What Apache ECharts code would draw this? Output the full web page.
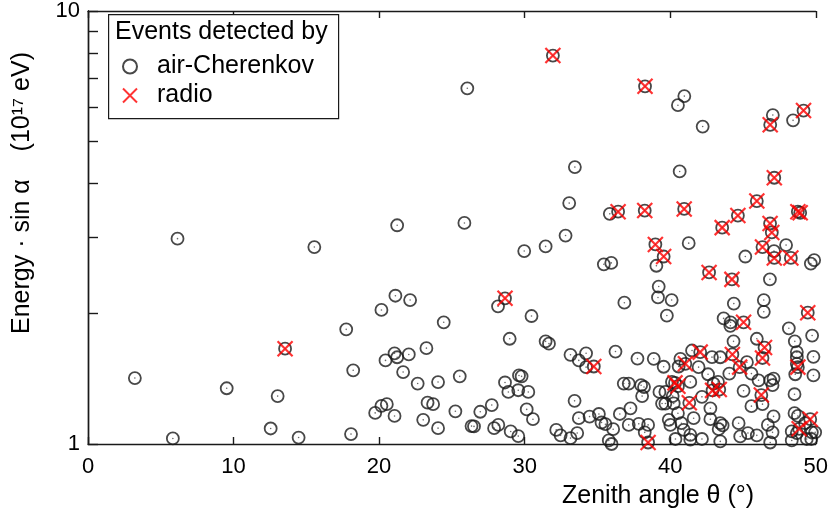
<!DOCTYPE html>
<html>
<head>
<meta charset="utf-8">
<script src="https://cdn.jsdelivr.net/npm/echarts@6.0.0/dist/echarts.min.js"></script>
<style>
  html, body { margin: 0; padding: 0; background: #fff; }
  #chart { width: 831px; height: 514px; }
</style>
</head>
<body>
<div id="chart"></div>
<script>
// zenith angle (deg), energy * sin(alpha) (1e17 eV) -- all events seen by air-Cherenkov
const cherenkovEvents = [
  [3.22,1.42],[5.83,1.03],[6.15,2.98],[9.53,1.345],[13.03,1.29],[12.55,1.086],[13.54,1.66],[14.47,1.035],
  [15.55,2.85],[17.74,1.84],[18.22,1.48],[18.07,1.054],[20.16,2.04],[21.12,2.20],[22.13,2.15],[21.06,1.62],
  [20.44,1.56],[21.24,1.586],[22.04,1.61],[21.65,1.466],[22.65,1.379],[19.73,1.18],[20.16,1.225],[20.53,1.236],
  [21.06,1.161],[21.24,3.20],[25.86,3.24],[26.06,6.63],[24.44,1.91],[23.25,1.665],[24.05,1.39],[25.54,1.433],
  [23.33,1.246],[23.71,1.236],[23.03,1.137],[24.05,1.088],[25.24,1.19],[26.95,1.187],[26.35,1.10],[26.52,1.098],
  [27.74,1.23],[27.9,1.088],[28.19,1.107],[28.17,2.08],[28.65,2.17],[28.65,1.387],[28.88,1.319],[28.97,1.75],
  [29.04,1.069],[29.56,1.331],[29.61,1.44],[29.79,1.433],[29.56,1.043],[29.97,2.79],[30.25,1.319],[30.14,1.202],
  [30.47,1.975],[30.57,1.141],[31.44,2.86],[31.44,1.726],[31.67,1.705],[31.94,7.89],[32.17,1.078],[32.47,1.047],
  [32.81,3.03],[33.06,3.60],[33.15,1.607],[33.15,1.032],[33.43,1.258],[33.45,4.36],[33.72,1.56],[33.72,1.147],
  [33.61,1.06],[34.22,1.62],[34.22,1.505],[34.75,1.51],[34.46,1.157],[35.1,1.173],[35.28,1.121],[35.55,1.111],
  [35.44,2.60],[35.95,2.62],[35.85,3.40],[36.42,3.44],[35.78,1.019],[35.97,1.0],[36.08,1.082],[36.24,1.635],
  [36.54,1.173],[36.85,2.12],[36.81,1.379],[37.15,1.379],[37.27,1.209],[37.15,1.107],[37.84,1.113],[37.75,1.575],
  [38.0,1.367],[38.2,1.354],[38.07,1.29],[38.25,1.064],[38.48,1.107],[38.48,1.008],[38.25,3.46],[38.27,6.70],
  [38.87,1.573],[38.98,2.89],[39.05,2.58],[39.21,2.31],[39.16,2.18],[39.26,1.319],[39.44,1.24],[39.67,1.24],
  [39.55,2.71],[39.55,1.508],[39.67,1.319],[39.77,1.98],[39.9,1.137],[40.01,1.107],[40.1,2.15],[40.12,1.391],
  [40.17,1.29],[40.24,1.241],[40.33,1.384],[40.53,1.36],[40.36,1.027],[40.53,6.06],[40.97,6.36],[40.65,4.26],
  [40.96,3.49],[40.7,1.573],[40.58,1.51],[41.04,1.532],[40.53,1.178],[40.77,1.117],[40.93,1.078],[41.27,2.91],
  [41.38,1.391],[41.31,1.245],[41.38,1.05],[41.38,1.023],[41.5,1.644],[41.61,1.147],[41.95,1.505],[42.06,1.63],
  [42.18,1.285],[42.18,1.027],[42.23,5.41],[42.67,2.49],[42.6,1.449],[42.76,1.209],[42.76,1.141],[42.87,1.587],
  [42.98,1.379],[42.91,1.33],[43.28,1.391],[43.37,1.336],[43.44,1.586],[43.57,3.16],[43.44,1.117],[43.6,1.104],
  [43.33,1.082],[43.44,1.014],[43.67,1.95],[44.15,1.91],[44.13,1.875],[44.06,1.454],[44.24,2.40],[44.27,1.61],
  [44.37,2.11],[44.35,1.726],[44.65,3.37],[44.7,1.117],[44.81,1.041],[44.77,1.505],[45.04,1.91],[45.04,1.327],
  [45.16,2.71],[45.27,1.545],[45.34,1.06],[45.58,1.454],[45.58,1.223],[45.95,3.64],[45.95,1.75],[45.95,1.047],
  [46.07,1.403],[46.26,1.297],[46.34,1.236],[46.34,2.85],[46.43,2.15],[46.43,2.02],[46.48,1.67],[46.34,1.58],
  [46.87,5.46],[47.05,5.75],[46.86,3.23],[46.98,3.08],[46.85,2.40],[47.15,4.12],[47.13,2.79],[47.15,2.69],
  [47.03,1.367],[46.87,1.403],[47.1,1.416],[47.1,1.158],[46.71,1.107],[47.03,1.064],[46.87,1.008],[47.96,2.88],
  [48.15,1.85],[48.29,2.69],[48.44,5.59],[48.56,1.726],[48.7,1.63],[48.7,1.586],[48.7,1.532],[48.77,1.505],
  [48.59,1.449],[48.54,1.303],[48.54,1.178],[48.77,1.161],[48.35,1.069],[48.7,1.06],[48.86,1.084],[48.35,1.019],
  [48.77,3.44],[48.93,3.42],[49.16,5.89],[49.45,2.01],[49.62,1.141],[49.66,2.61],[49.89,2.66],[49.75,1.78],
  [49.84,1.59],[49.84,1.44],[49.73,1.064],[49.96,1.064],[49.69,1.027],[49.38,1.027],[49.27,1.117]
];

// subset also detected by the radio antennas
const radioEvents = [
  [13.54,1.66],[28.65,2.17],[31.94,7.89],[34.75,1.51],[36.42,3.44],[38.48,1.008],[38.25,3.46],[38.27,6.70],
  [38.98,2.89],[39.55,2.71],[40.33,1.384],[40.53,1.36],[40.96,3.49],[41.04,1.532],[41.31,1.245],[42.06,1.63],
  [42.67,2.49],[42.91,1.33],[43.37,1.336],[43.57,3.16],[44.24,2.40],[44.27,1.61],[44.65,3.37],[44.77,1.505],
  [45.04,1.91],[45.95,3.64],[46.26,1.297],[46.34,2.85],[46.48,1.67],[46.34,1.58],[46.87,5.46],[46.86,3.23],
  [46.98,3.08],[47.15,4.12],[47.15,2.69],[48.29,2.69],[48.77,1.505],[48.86,1.084],[48.77,3.44],[48.93,3.42],
  [49.16,5.89],[49.45,2.01],[49.62,1.141]
];

const yTickValues = [1, 2, 3, 4, 5, 6, 7, 8, 9, 10];
const yLabelValues = [1, 10];

const FONT = '"Liberation Sans", Arial, sans-serif';
const crossPath = 'path://M0,0L10,10M10,0L0,10';
const INK = '#1a1a1a';
const X_TICK = 7, Y_TICK = 5;

const chart = echarts.init(document.getElementById('chart'));

// frame axes: line + labels, no ticks
function xFrame(pos, showLabels) {
  return {
    type: 'value', min: 0, max: 50, interval: 10, position: pos,
    axisLine: { lineStyle: { color: INK, width: 1.4 } },
    axisTick: { show: false },
    axisLabel: showLabels
      ? { color: '#000', fontSize: 22, fontFamily: FONT, margin: 12 }
      : { show: false },
    splitLine: { show: false }
  };
}
function yFrame(pos, showLabels) {
  return {
    type: 'log', logBase: 10, min: 1, max: 10, position: pos,
    axisLine: { lineStyle: { color: INK, width: 1.4 } },
    axisTick: { show: false },
    axisLabel: showLabels
      ? { color: '#000', fontSize: 22, fontFamily: FONT, margin: 8, customValues: yLabelValues }
      : { show: false },
    splitLine: { show: false }
  };
}
// tick-only axes, shifted into the plot so outward ticks end on the frame
function xTicks(pos) {
  return {
    type: 'value', min: 0, max: 50, interval: 10, position: pos, offset: -X_TICK,
    axisLine: { show: false },
    axisTick: { show: true, length: X_TICK, lineStyle: { color: INK, width: 1.4 } },
    axisLabel: { show: false }, splitLine: { show: false }
  };
}
function yTicks(pos) {
  return {
    type: 'log', logBase: 10, min: 1, max: 10, position: pos, offset: -Y_TICK,
    axisLine: { show: false },
    axisTick: { show: true, length: Y_TICK, customValues: yTickValues,
                lineStyle: { color: INK, width: 1.4 } },
    axisLabel: { show: false }, splitLine: { show: false }
  };
}

chart.setOption({
  animation: false,
  backgroundColor: '#fff',
  grid: { left: 88, right: 14, top: 7, bottom: 70 },
  xAxis: [xFrame('bottom', true), xFrame('top', false), xTicks('bottom'), xTicks('top')],
  yAxis: [yFrame('left', true), yFrame('right', false), yTicks('left'), yTicks('right')],
  legend: {
    orient: 'vertical', left: 117, top: 49, itemGap: 4,
    itemWidth: 14, itemHeight: 14,
    textStyle: { color: '#000', fontSize: 25, fontFamily: FONT, padding: [0, 0, 0, 15] },
    data: ['air-Cherenkov', 'radio'],
    z: 10
  },
  graphic: [
    { type: 'rect', left: 108, top: 14, z: 5,
      shape: { width: 230, height: 104 },
      style: { fill: '#fff', stroke: INK, lineWidth: 1.2 } },
    { type: 'text', left: 115, top: 20, z: 11,
      style: { text: 'Events detected by', fill: '#000', font: '25px ' + FONT } },
    { type: 'text', left: 562, top: 484, z: 11,
      style: { text: 'Zenith angle θ (°)', fill: '#000', font: '25px ' + FONT } },
    { type: 'text', x: 10, y: 193, rotation: Math.PI / 2, z: 11,
      style: { text: 'Energy · sin α    (10¹⁷ eV)', fill: '#000', font: '25px ' + FONT,
               align: 'center', verticalAlign: 'top' } }
  ],
  series: [
    {
      name: 'air-Cherenkov', type: 'scatter', data: cherenkovEvents,
      symbol: 'circle', symbolSize: 12,
      itemStyle: { color: 'transparent', borderColor: INK, borderWidth: 1.8 },
      z: 2
    },
    {
      name: 'centre', type: 'scatter', data: cherenkovEvents, silent: true,
      symbol: 'circle', symbolSize: 1.6,
      itemStyle: { color: '#444' }, z: 2
    },
    {
      name: 'radio', type: 'scatter', data: radioEvents,
      symbol: crossPath, symbolSize: 15,
      itemStyle: { color: 'transparent', borderColor: '#ff0000', borderWidth: 2.2 },
      z: 3
    }
  ]
});
</script>
</body>
</html>
